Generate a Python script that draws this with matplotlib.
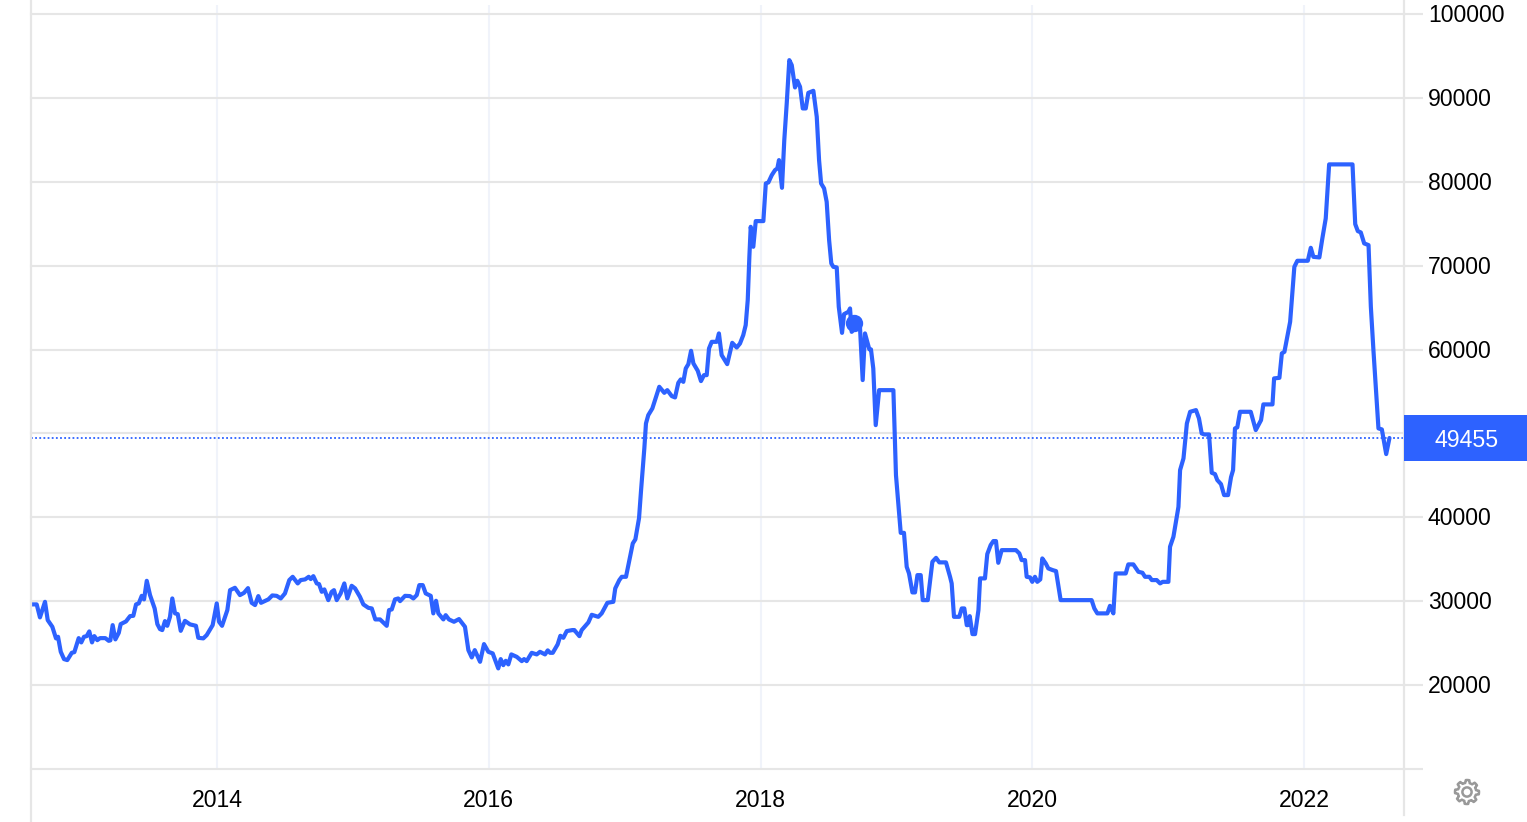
import numpy as np
import matplotlib
matplotlib.use("Agg")
import matplotlib.pyplot as plt
from matplotlib.lines import Line2D
from matplotlib.patches import Polygon, Circle, Rectangle
from matplotlib.transforms import Affine2D, ScaledTranslation

plt.rcParams['font.family'] = ['Liberation Sans', 'DejaVu Sans']

# (decimal year, price)
series = [
(2012.636,29620),(2012.673,29620),(2012.697,28070),(2012.734,29930),(2012.754,27750),(2012.788,26950),
(2012.815,25570),(2012.830,25760),(2012.850,23970),(2012.874,23100),(2012.898,22980),(2012.931,23850),
(2012.950,23930),(2012.982,25600),(2013.001,25090),(2013.021,25760),(2013.041,25840),(2013.060,26400),
(2013.080,25090),(2013.097,25840),(2013.119,25360),(2013.139,25600),(2013.178,25600),(2013.203,25280),
(2013.215,25330),(2013.232,27150),(2013.252,25450),(2013.277,26230),(2013.291,27270),(2013.330,27590),
(2013.360,28220),(2013.384,28260),(2013.404,29620),(2013.424,29740),(2013.446,30640),(2013.463,30220),
(2013.483,32430),(2013.507,30730),(2013.541,29140),(2013.561,27270),(2013.580,26680),(2013.597,26560),
(2013.617,27630),(2013.634,27070),(2013.654,28140),(2013.671,30330),(2013.691,28550),(2013.711,28460),
(2013.733,26470),(2013.764,27660),(2013.801,27240),(2013.845,27070),(2013.862,25640),(2013.899,25570),
(2013.924,25960),(2013.968,27150),(2013.998,29740),(2014.015,27550),(2014.037,27070),(2014.076,28940),
(2014.096,31320),(2014.132,31600),(2014.169,30730),(2014.199,31000),(2014.228,31560),(2014.255,29810),
(2014.280,29540),(2014.304,30610),(2014.324,29810),(2014.378,30220),(2014.407,30690),(2014.439,30640),
(2014.469,30330),(2014.500,30930),(2014.532,32520),(2014.557,32910),(2014.594,32120),(2014.616,32520),
(2014.648,32600),(2014.675,32910),(2014.690,32640),(2014.709,32990),(2014.734,32120),(2014.751,32040),
(2014.771,31120),(2014.790,31410),(2014.819,30130),(2014.844,31120),(2014.861,31320),(2014.881,30130),
(2014.910,30930),(2014.937,32120),(2014.959,30330),(2014.991,31840),(2015.016,31530),(2015.052,30530),
(2015.077,29620),(2015.114,29210),(2015.139,29140),(2015.165,27830),(2015.200,27830),(2015.249,27070),
(2015.266,28940),(2015.286,29020),(2015.310,30220),(2015.334,30330),(2015.347,30010),(2015.384,30640),
(2015.420,30610),(2015.445,30330),(2015.470,30730),(2015.489,31920),(2015.514,31920),(2015.536,30930),
(2015.573,30640),(2015.592,28550),(2015.612,30050),(2015.629,28550),(2015.666,27830),(2015.683,28340),
(2015.707,27830),(2015.744,27550),(2015.781,27870),(2015.825,26950),(2015.850,24170),(2015.875,23300),
(2015.897,24170),(2015.936,22780),(2015.965,24890),(2015.997,23970),(2016.029,23780),(2016.070,21990),
(2016.088,23100),(2016.107,22380),(2016.125,22900),(2016.144,22470),(2016.166,23660),(2016.206,23370),
(2016.243,22860),(2016.260,23100),(2016.279,22860),(2016.316,23850),(2016.353,23660),(2016.377,23970),
(2016.414,23660),(2016.434,24140),(2016.451,23850),(2016.471,23850),(2016.507,24850),(2016.527,25880),
(2016.549,25640),(2016.574,26440),(2016.615,26560),(2016.630,26560),(2016.667,25840),(2016.684,26560),
(2016.733,27470),(2016.758,28380),(2016.806,28140),(2016.831,28550),(2016.873,29810),(2016.917,29930),
(2016.931,31530),(2016.961,32520),(2016.979,32910),(2017.010,32910),(2017.035,34900),(2017.060,36890),
(2017.079,37370),(2017.091,38480),(2017.106,39900),(2017.121,43240),(2017.145,48210),(2017.157,51190),
(2017.174,52180),(2017.204,52980),(2017.255,55560),(2017.292,54840),(2017.314,55160),(2017.347,54450),
(2017.371,54290),(2017.395,56030),(2017.413,56440),(2017.432,56150),(2017.450,57750),(2017.469,58260),
(2017.489,59850),(2017.506,58350),(2017.538,57470),(2017.562,56240),(2017.584,56950),(2017.604,56950),
(2017.621,60130),(2017.641,60920),(2017.678,60920),(2017.694,61920),(2017.714,59340),(2017.755,58260),
(2017.792,60800),(2017.825,60240),(2017.849,60720),(2017.873,61720),(2017.891,62910),(2017.906,65890),
(2017.918,71050),(2017.928,74630),(2017.947,72250),(2017.965,75310),(2018.021,75310),(2018.039,79800),
(2018.058,79920),(2018.083,80790),(2018.107,81390),(2018.124,81590),(2018.136,82580),(2018.158,79280),
(2018.175,84960),(2018.193,89340),(2018.212,94500),(2018.230,93900),(2018.254,91240),(2018.271,92040),
(2018.291,91320),(2018.311,88740),(2018.333,88740),(2018.352,90600),(2018.389,90840),(2018.414,87740),
(2018.431,82580),(2018.446,79800),(2018.468,79210),(2018.487,77610),(2018.505,73040),(2018.521,70270),
(2018.536,69860),(2018.561,69790),(2018.576,65090),(2018.600,61990),(2018.615,64220),(2018.647,64500),
(2018.659,64900),(2018.671,62110),(2018.695,62520),(2018.732,62710),(2018.752,56360),(2018.769,61920),
(2018.801,60020),(2018.813,60020),(2018.830,57750),(2018.848,50990),(2018.873,55160),(2018.978,55160),
(2018.997,45030),(2019.032,38150),(2019.056,38150),(2019.076,34100),(2019.093,33310),(2019.118,31050),
(2019.137,31050),(2019.155,33110),(2019.179,33110),(2019.194,30130),(2019.231,30130),(2019.265,34700),
(2019.292,35170),(2019.316,34630),(2019.365,34630),(2019.395,32910),(2019.407,32120),(2019.424,28140),
(2019.463,28140),(2019.481,29140),(2019.500,29140),(2019.518,27150),(2019.526,27150),(2019.540,28220),
(2019.560,26080),(2019.579,26080),(2019.604,28940),(2019.616,32720),(2019.652,32720),(2019.669,35620),
(2019.694,36690),(2019.714,37170),(2019.733,37170),(2019.750,34580),(2019.775,36090),(2019.880,36090),
(2019.905,35700),(2019.922,34900),(2019.947,34900),(2019.959,32910),(2019.984,32840),(2020.000,32310),
(2020.020,32910),(2020.037,32310),(2020.059,32600),(2020.074,35100),(2020.099,34510),(2020.118,33910),
(2020.150,33710),(2020.175,33590),(2020.209,30130),(2020.437,30130),(2020.457,29140),(2020.479,28550),
(2020.553,28550),(2020.572,29450),(2020.597,28550),(2020.614,33310),(2020.688,33310),(2020.707,34390),
(2020.744,34390),(2020.781,33510),(2020.811,33390),(2020.830,32910),(2020.862,32910),(2020.880,32520),
(2020.916,32520),(2020.941,32120),(2020.960,32310),(2021.002,32310),(2021.014,36490),(2021.039,37680),
(2021.076,41250),(2021.088,45630),(2021.113,47020),(2021.138,51190),(2021.162,52580),(2021.205,52780),
(2021.227,51790),(2021.247,50000),(2021.266,49880),(2021.301,49880),(2021.321,45310),(2021.345,45150),
(2021.362,44440),(2021.375,44200),(2021.389,43960),(2021.412,42650),(2021.441,42650),(2021.463,44790),
(2021.478,45630),(2021.492,50600),(2021.509,50720),(2021.529,52580),(2021.608,52580),(2021.645,50400),
(2021.684,51590),(2021.701,53460),(2021.768,53460),(2021.780,56560),(2021.819,56630),(2021.837,59540),
(2021.856,59730),(2021.898,63310),(2021.929,69860),(2021.951,70580),(2022.028,70580),(2022.050,72130),
(2022.069,71050),(2022.113,70980),(2022.135,73240),(2022.160,75630),(2022.185,82070),(2022.357,82070),
(2022.377,74950),(2022.396,74120),(2022.418,73960),(2022.443,72650),(2022.475,72450),(2022.492,65090),
(2022.511,59930),(2022.548,50600),(2022.573,50480),(2022.605,47540),(2022.629,49455),
]
years = [p[0] for p in series]
prices = [p[1] for p in series]
y_ticks = [10000, 20000, 30000, 40000, 50000, 60000, 70000, 80000, 90000, 100000]
y_labels = ['', '20000', '30000', '40000', '', '60000', '70000', '80000', '90000', '100000']
x_ticks = [2014, 2016, 2018, 2020, 2022]
last_value = 49455
marker_point = (2018.691, 63110)

W, H = 1527, 822
BLUE = '#2d62ff'
GRID_H = '#e6e6e6'
GRID_V = '#f0f3fa'
FS = 16.6

fig = plt.figure(figsize=(W / 100, H / 100), dpi=100, facecolor='white')
L, R, T, B = 31, 1404, 5, 769
ax = fig.add_axes([L / W, 1 - B / H, (R - L) / W, (B - T) / H])
ax.set_xlim(2012.631, 2022.736)
ax.set_ylim(10000, 101070)
for s in ax.spines.values():
    s.set_visible(False)

ax.set_xticks(x_ticks)
ax.set_xticklabels([str(t) for t in x_ticks], fontsize=FS, color='#000000')
ax.set_yticks(y_ticks)
ax.set_yticklabels(y_labels, fontsize=FS, color='#000000')
ax.yaxis.tick_right()
ax.tick_params(axis='y', length=13.7, width=1.5, color=GRID_H, pad=3.5)
ax.tick_params(axis='x', length=0, pad=14.6)
ax.grid(axis='y', color=GRID_H, lw=1.5, zorder=1)
ax.grid(axis='x', color=GRID_V, lw=1.5, zorder=0)
ax.set_axisbelow(True)
for g in ax.get_ygridlines():
    g.set_clip_on(False)
up = ScaledTranslation(0, 1 / 100, fig.dpi_scale_trans)
for lab in ax.get_yticklabels():
    lab.set_transform(lab.get_transform() + up)

ax.axhline(last_value, color=BLUE, lw=1.3, ls=(0, (1.0, 1.3)), zorder=2)
ax.plot(years, prices, color=BLUE, lw=3.0, solid_joinstyle='round', solid_capstyle='round', zorder=3)
ax.plot([marker_point[0]], [marker_point[1]], 'o', color=BLUE, ms=12.5, mew=0, zorder=4)

# frame lines running beyond the plot area, in figure pixels
px = Affine2D().scale(1 / W, -1 / H).translate(0, 1) + fig.transFigure
fig.add_artist(Line2D([L, L], [0, H], transform=px, color=GRID_H, lw=1.6))
fig.add_artist(Line2D([R, R], [0, 815], transform=px, color=GRID_H, lw=1.6))

# last-value badge
fig.add_artist(Rectangle((R, 415), W - R, 46, transform=px, color=BLUE, lw=0, zorder=5))
fig.text(1467 / W, 1 - 440 / H, str(last_value), color='white', fontsize=FS,
         ha='center', va='center', zorder=6)

# settings gear
cx, cy = 1467, 792
angles = np.linspace(0, 2 * np.pi, 8 * 8, endpoint=False)
radii = np.where((np.arange(64) + 1) % 8 < 4, 12.0, 9.2)
gear = np.column_stack([cx + radii * np.cos(angles), cy + radii * np.sin(angles)])
fig.add_artist(Polygon(gear, closed=True, transform=px, fill=False, ec='#999999', lw=1.8, joinstyle='round'))
fig.add_artist(Circle((cx, cy), 4.6, transform=px, fill=False, ec='#999999', lw=1.8))

fig.savefig('out.png', dpi=100, facecolor='white')
